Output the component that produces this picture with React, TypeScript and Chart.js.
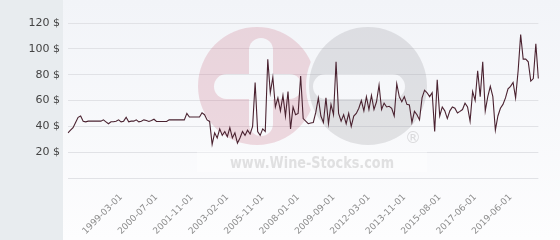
import { useEffect, useRef } from 'react';
import { Chart, registerables } from 'chart.js';

Chart.register(...registerables);

const prices: number[] = [
  35, 37, 39, 43, 47, 48, 44, 43.5, 44, 44,
  44, 44, 44, 44, 45, 43.5, 42, 43.5, 43.5, 44,
  45, 43.5, 44, 47, 43.5, 44, 44, 45, 43.5, 44,
  45, 44.5, 43.8, 44.5, 45.5, 43.8, 43.8, 43.8, 43.8, 43.8,
  45, 45, 45, 45, 45, 45, 45, 50, 47.2, 47.2,
  47.2, 47.2, 47.2, 50.5, 49, 45, 43.8, 26, 35, 31,
  38, 33, 36, 32, 39, 31, 35, 27, 31, 36,
  33, 37, 34, 40, 74, 36, 33, 38, 36, 92,
  66, 78, 55, 62, 52, 64, 48, 67, 38, 55,
  49, 50, 79, 46, 44, 42, 42.6, 43, 51, 62,
  48, 43, 62, 42, 57, 49, 90, 50, 44, 49,
  42, 50, 40, 48, 50, 54, 60, 52, 63, 53,
  64, 53, 59, 72, 53, 58, 55, 55.5, 54, 48,
  73, 63, 59, 63, 57, 56.5, 43, 51.6, 49, 45,
  62, 68, 66, 63, 66, 36, 76, 48, 55, 52,
  46, 52, 55, 54, 50.3, 51.6, 53, 58, 55, 44,
  67, 60, 83, 63, 90, 52, 63, 71, 63, 37,
  48, 54, 57, 62, 69, 71, 74, 62, 83, 111,
  92, 92, 90, 75, 77, 104, 77,
];

// Dates shown on the x axis (every 14th observation, starting at the 22nd)
const tickDates: string[] = [
  '1999-03-01', '2000-07-01', '2001-11-01', '2003-02-01', '2005-11-01', '2008-01-01',
  '2009-09-01', '2012-03-01', '2013-11-01', '2015-08-01', '2017-06-01', '2019-06-01',
];
const firstTickIndex = 21;
const tickStep = 14;

// Y axis
const yMin = 0;
const yMax = 120;
const yStep = 20;
const currency = '$';

const categories: string[] = prices.map((_, i) => {
  const k = i - firstTickIndex;
  if (k >= 0 && k % tickStep === 0) return tickDates[k / tickStep] ?? '';
  return '';
});

function roundRectPath(c: CanvasRenderingContext2D, x: number, y: number, w: number, h: number, r: number) {
  c.beginPath();
  c.moveTo(x + r, y);
  c.lineTo(x + w - r, y);
  c.arc(x + w - r, y + r, r, -Math.PI / 2, 0);
  c.lineTo(x + w, y + h - r);
  c.arc(x + w - r, y + h - r, r, 0, Math.PI / 2);
  c.lineTo(x + r, y + h);
  c.arc(x + r, y + h - r, r, Math.PI / 2, Math.PI);
  c.lineTo(x, y + r);
  c.arc(x + r, y + r, r, Math.PI, Math.PI * 1.5);
  c.closePath();
}

const backgroundPlugin = {
  id: 'pageBackground',
  beforeDraw(chart: any) {
    const { ctx, width, height } = chart;
    ctx.save();
    const g = ctx.createLinearGradient(0, 0, 0, height);
    g.addColorStop(0, '#f2f4f8');
    g.addColorStop(1, '#fdfdfe');
    ctx.fillStyle = g;
    ctx.fillRect(0, 0, width, height);
    ctx.fillStyle = '#e8ecef';
    ctx.fillRect(0, 0, 63, height);
    ctx.restore();
  },
};

const watermarkPlugin = {
  id: 'watermark',
  beforeDatasetsDraw(chart: any) {
    const { ctx, width, height } = chart;
    const off = document.createElement('canvas');
    off.width = width;
    off.height = height;
    const o = off.getContext('2d') as CanvasRenderingContext2D;
    // pink "+" disc
    o.fillStyle = 'rgb(201,110,132)';
    o.beginPath();
    o.arc(257, 86, 59, 0, Math.PI * 2);
    o.fill();
    o.globalCompositeOperation = 'destination-out';
    o.beginPath();
    o.arc(368, 86, 62, 0, Math.PI * 2);
    o.fill();
    roundRectPath(o, 249, 38, 24, 98, 12);
    o.fill();
    roundRectPath(o, 214, 74, 88, 25, 12.5);
    o.fill();
    o.globalCompositeOperation = 'source-over';
    // grey "−" disc
    o.fillStyle = 'rgb(150,150,156)';
    o.beginPath();
    o.arc(368, 86, 59, 0, Math.PI * 2);
    o.fill();
    o.globalCompositeOperation = 'destination-out';
    roundRectPath(o, 313, 74, 92, 25, 12.5);
    o.fill();
    o.globalCompositeOperation = 'source-over';

    ctx.save();
    ctx.fillStyle = 'rgba(255,255,255,0.35)';
    ctx.fillRect(197, 151, 230, 21);
    ctx.globalAlpha = 0.24;
    ctx.drawImage(off, 0, 0);
    ctx.globalAlpha = 1;
    ctx.fillStyle = '#e0e0e1';
    ctx.font = 'bold 15px "DejaVu Sans"';
    ctx.textBaseline = 'alphabetic';
    ctx.textAlign = 'left';
    ctx.fillText('www.Wine-Stocks.com', 230, 168, 164);
    ctx.fillStyle = '#dadadc';
    ctx.font = '16px "DejaVu Sans"';
    ctx.textAlign = 'center';
    ctx.textBaseline = 'middle';
    ctx.fillText('®', 413, 139);
    ctx.restore();
  },
};

export default function App() {
  const canvasRef = useRef<HTMLCanvasElement | null>(null);

  useEffect(() => {
    document.body.style.margin = '0';
    const canvas = canvasRef.current;
    if (!canvas) return;
    const chart = new Chart(canvas, {
      type: 'line',
      data: {
        labels: categories,
        datasets: [
          {
            data: prices,
            borderColor: '#4a2230',
            borderWidth: 1.1,
            pointRadius: 0,
            pointHoverRadius: 0,
            tension: 0,
            fill: false,
          },
        ],
      },
      options: {
        animation: false,
        responsive: false,
        maintainAspectRatio: false,
        devicePixelRatio: 1,
        layout: { padding: { top: 23, right: 6, left: 0, bottom: 0 } },
        plugins: {
          legend: { display: false },
          tooltip: { enabled: false },
        },
        scales: {
          x: {
            grid: { display: false, drawTicks: false },
            border: { display: false },
            ticks: {
              autoSkip: false,
              minRotation: 45,
              maxRotation: 45,
              padding: 14,
              color: '#8c8c8c',
              font: { family: 'DejaVu Sans', size: 9 },
            },
            afterFit: (s: any) => {
              s.height = 62;
            },
          },
          y: {
            min: yMin,
            max: yMax,
            grid: { color: '#e1e2e6', drawTicks: false },
            border: { display: false },
            ticks: {
              stepSize: yStep,
              padding: 8,
              color: '#444444',
              font: { family: 'DejaVu Sans', size: 11 },
              callback: (v: any) => (Number(v) === 0 ? '' : `${v} ${currency}`),
            },
            afterFit: (s: any) => {
              s.width = 68;
            },
          },
        },
      },
      plugins: [backgroundPlugin, watermarkPlugin],
    });
    return () => chart.destroy();
  }, []);

  return (
    <div style={{ position: 'absolute', left: 0, top: 0, width: 560, height: 240 }}>
      <canvas ref={canvasRef} width={560} height={240} style={{ display: 'block', width: 560, height: 240 }} />
    </div>
  );
}
